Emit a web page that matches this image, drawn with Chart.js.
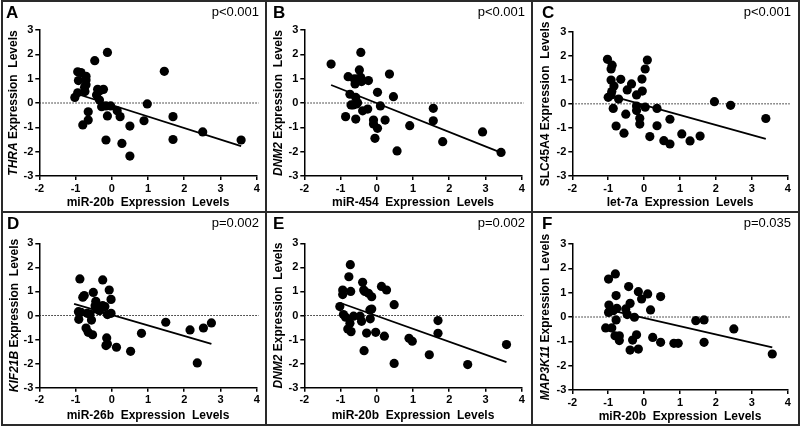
<!DOCTYPE html>
<html>
<head>
<meta charset="utf-8">
<script src="https://cdn.jsdelivr.net/npm/chart.js@4.4.0/dist/chart.umd.min.js"></script>
<style>
  body { margin: 0; background: #fff; }
  #wrap { position: relative; width: 800px; height: 428px; overflow: hidden; }
  canvas { position: absolute; }
  .rule { position: absolute; background: #2a2a2a; z-index: 2; }
</style>
</head>
<body>
<div id="wrap">
  <canvas id="cA" width="266" height="212" style="left:0;top:0"></canvas>
  <canvas id="cB" width="266" height="212" style="left:266px;top:0"></canvas>
  <canvas id="cC" width="268" height="212" style="left:532px;top:0"></canvas>
  <canvas id="cD" width="266" height="214" style="left:0;top:212px"></canvas>
  <canvas id="cE" width="266" height="214" style="left:266px;top:212px"></canvas>
  <canvas id="cF" width="268" height="214" style="left:532px;top:212px"></canvas>

  <div class="rule" style="left:1px;top:0;width:799px;height:2px"></div>
  <div class="rule" style="left:1px;top:424px;width:799px;height:2px"></div>
  <div class="rule" style="left:1px;top:0;width:2px;height:426px"></div>
  <div class="rule" style="left:798px;top:0;width:2px;height:426px"></div>
  <div class="rule" style="left:265px;top:0;width:2px;height:426px"></div>
  <div class="rule" style="left:531px;top:0;width:2px;height:426px"></div>
  <div class="rule" style="left:1px;top:211px;width:799px;height:2px"></div>
</div>
<script>
// panel labels and texts
const panelLetters = ['A', 'B', 'C', 'D', 'E', 'F'];
const geneNames = ['THRA', 'DNM2', 'SLC45A4', 'KIF21B', 'DNM2', 'MAP3K11'];
const geneItalic = [true, true, false, true, true, true];
const mirNames = ['miR-20b', 'miR-454', 'let-7a', 'miR-26b', 'miR-20b', 'miR-20b'];
const pValues = ['p<0.001', 'p<0.001', 'p<0.001', 'p=0.002', 'p=0.002', 'p=0.035'];

const xTicks = [-2, -1, 0, 1, 2, 3, 4];
const yTicks = [-3, -2, -1, 0, 1, 2, 3];

// expression values
const aX = [-1.02,-0.94,-0.85,-0.92,-0.94,-0.80,-0.71,-0.71,-0.71,-0.75,-0.74,-0.65,-0.65,-0.47,-0.42,-0.39,-0.34,-0.33,-0.28,-0.23,-0.16,-0.16,-0.12,-0.12,-0.03,0.15,0.23,0.28,0.50,0.50,0.89,0.98,1.45,1.69,1.69,2.51,3.57];
const aY = [0.23,1.28,1.25,0.92,0.42,-0.90,1.10,0.95,0.75,0.65,0.47,-0.36,-0.70,1.74,0.33,0.56,0.12,0.50,-0.15,0.56,-1.52,-0.12,2.08,-0.53,-0.12,-0.32,-0.56,-1.66,-2.18,-0.95,-0.73,-0.04,1.30,-0.56,-1.50,-1.19,-1.52];

const bX = [-1.26,-0.79,-0.86,-0.74,-0.71,-0.65,-0.62,-0.60,-0.58,-0.58,-0.56,-0.53,-0.48,-0.53,-0.44,-0.42,-0.44,-0.39,-0.25,-0.23,-0.09,-0.09,-0.05,0.02,0.02,0.10,0.23,0.35,0.46,0.56,0.91,1.56,1.56,1.82,2.92,3.43];
const bY = [1.60,1.08,-0.56,0.36,-0.08,-0.08,0.99,0.78,0.23,-0.66,-0.04,0.99,1.36,0.01,1.05,0.88,2.08,-0.32,-0.25,0.92,-0.70,-0.86,-1.45,0.44,-1.04,-0.12,-0.70,1.19,0.26,-1.97,-0.93,-0.22,-0.73,-1.59,-1.19,-2.03];

const cX = [-1.02,-1.00,-0.92,-0.92,-0.92,-0.89,-0.90,-0.86,-0.84,-0.78,-0.71,-0.65,-0.56,-0.51,-0.47,-0.35,-0.21,-0.21,-0.21,-0.12,-0.12,-0.06,-0.05,0.03,0.03,0.09,0.16,0.36,0.36,0.55,0.72,0.72,1.05,1.28,1.56,1.96,2.41,3.39];
const cY = [1.85,0.27,0.37,0.99,1.45,1.61,0.51,-0.19,0.74,-0.92,0.20,1.02,-1.22,-0.43,0.58,0.83,0.37,-0.09,-0.28,-0.60,-0.84,1.03,0.53,1.45,-0.14,1.82,-1.36,-0.19,-0.91,-1.53,-1.67,-0.64,-1.25,-1.54,-1.34,0.09,-0.06,-0.61];

const dX = [-0.88,-0.92,-0.91,-0.85,-0.80,-0.76,-0.71,-0.68,-0.65,-0.60,-0.56,-0.53,-0.51,-0.46,-0.44,-0.42,-0.34,-0.25,-0.25,-0.19,-0.16,-0.14,-0.12,-0.12,-0.07,-0.02,-0.02,0.13,0.52,0.82,1.49,2.16,2.36,2.53,2.75];
const dY = [1.52,0.16,-0.16,0.13,0.76,0.83,-0.52,0.09,-0.70,0.06,-0.19,-0.80,0.96,0.41,0.59,0.27,0.20,1.48,0.41,0.37,-1.25,-0.93,0.04,-1.18,1.06,0.67,0.09,-1.32,-1.49,-0.74,-0.28,-0.60,-1.97,-0.52,-0.31];

const eX = [-1.02,-0.94,-0.94,-0.92,-0.86,-0.80,-0.77,-0.73,-0.72,-0.74,-0.71,-0.64,-0.46,-0.42,-0.39,-0.36,-0.33,-0.35,-0.28,-0.23,-0.19,-0.18,-0.14,-0.14,-0.03,0.13,0.27,0.21,0.48,0.48,0.89,0.98,1.45,1.69,1.69,2.51,3.58];
const eY = [0.37,1.06,0.87,0.04,-0.07,-0.56,1.61,2.11,1.00,-0.32,-0.67,-0.03,-0.03,-0.24,1.38,1.06,1.00,-1.46,-0.73,0.92,0.23,-0.14,0.27,0.78,-0.70,1.21,1.06,-0.86,0.45,-1.99,-0.95,-1.07,-1.63,-0.21,-0.74,-2.04,-1.21];

const fX = [-1.07,-0.99,-0.98,-0.99,-0.90,-0.86,-0.80,-0.78,-0.76,-0.78,-0.81,-0.69,-0.69,-0.51,-0.47,-0.43,-0.39,-0.39,-0.32,-0.27,-0.21,-0.16,-0.16,-0.07,0.10,0.18,0.24,0.46,0.46,0.83,0.95,1.44,1.67,1.67,2.50,3.57];
const fY = [-0.45,1.56,0.49,0.19,-0.45,0.26,1.77,0.88,0.36,-0.12,-0.77,-0.77,-0.97,0.33,0.10,1.25,0.56,-1.36,-0.95,-0.01,-0.73,-1.32,1.04,0.74,0.95,0.29,-0.84,0.84,-1.04,-1.08,-1.08,-0.15,-0.12,-1.04,-0.49,-1.52];

// regression line ends [x0, y0, x1, y1] as drawn in each panel
const fitA = [-1.02, 0.40, 3.57, -1.77];
const fitB = [-1.26, 0.74, 3.43, -2.04];
const fitC = [-1.02, 0.37, 3.39, -1.46];
const fitD = [-1.04, 0.48, 2.75, -1.18];
const fitE = [-1.02, 0.53, 3.58, -1.94];
const fitF = [-0.98, 0.29, 3.57, -1.25];

const FONT = '"Liberation Sans", Arial, sans-serif';

// dotted zero line + letter, p value and mixed-style y title
const decor = {
  id: 'decor',
  beforeDatasetsDraw(chart) {
    const { ctx, chartArea } = chart;
    const y0 = chart.scales.y.getPixelForValue(0);
    ctx.save();
    ctx.strokeStyle = '#222';
    ctx.lineWidth = 1;
    ctx.setLineDash([1.5, 1.5]);
    ctx.beginPath();
    ctx.moveTo(chartArea.left, y0);
    ctx.lineTo(chartArea.right + 2, y0);
    ctx.stroke();
    ctx.restore();
  },
  afterDraw(chart, args, opts) {
    const { ctx, chartArea } = chart;
    ctx.save();
    ctx.fillStyle = '#000';
    ctx.textBaseline = 'middle';
    ctx.font = 'bold 17px ' + FONT;
    ctx.textAlign = 'left';
    ctx.fillText(opts.letter, opts.letterX, opts.letterY);
    ctx.font = '13px ' + FONT;
    ctx.textAlign = 'right';
    ctx.fillText(opts.p, chart.width - opts.pRight, opts.letterY - 1);

    // rotated y title
    const geneFont = (opts.italic ? 'italic bold 12px ' : 'bold 12px ') + FONT;
    const restFont = 'bold 12px ' + FONT;
    const rest = ' Expression  Levels';
    ctx.font = geneFont;
    const w1 = ctx.measureText(opts.gene).width;
    ctx.font = restFont;
    const w2 = ctx.measureText(rest).width;
    const cy = (chartArea.top + chartArea.bottom) / 2;
    ctx.translate(opts.titleX, cy);
    ctx.rotate(-Math.PI / 2);
    ctx.textAlign = 'left';
    ctx.font = geneFont;
    ctx.fillText(opts.gene, -(w1 + w2) / 2, 0);
    ctx.font = restFont;
    ctx.fillText(rest, -(w1 + w2) / 2 + w1, 0);
    ctx.restore();
  }
};

function makePanel(id, idx, xs, ys, fit, g) {
  const pts = xs.map((x, i) => ({ x: x, y: ys[i] }));
  const yW = 28;
  const tickFont = { family: FONT, size: 11, weight: 'bold' };
  new Chart(document.getElementById(id), {
    type: 'scatter',
    data: {
      datasets: [
        {
          data: pts,
          backgroundColor: '#000',
          borderWidth: 0,
          pointRadius: 4.6,
          pointHoverRadius: 4.6
        },
        {
          data: [{ x: fit[0], y: fit[1] }, { x: fit[2], y: fit[3] }],
          showLine: true,
          borderColor: '#000',
          borderWidth: 1.8,
          pointRadius: 0
        }
      ]
    },
    options: {
      responsive: false,
      animation: false,
      events: [],
      layout: {
        padding: { left: g.left - yW, right: g.w - g.right, top: g.top, bottom: 0 }
      },
      plugins: {
        legend: { display: false },
        tooltip: { enabled: false },
        decor: {
          letter: panelLetters[idx], p: pValues[idx], gene: geneNames[idx],
          italic: geneItalic[idx], letterX: g.letterX, letterY: g.letterY,
          pRight: g.pRight, titleX: g.titleX
        }
      },
      scales: {
        x: {
          type: 'linear', min: xTicks[0], max: xTicks[xTicks.length - 1],
          afterFit: s => { s.height = g.h - g.bottom; },
          afterBuildTicks: s => { s.ticks = xTicks.map(v => ({ value: v })); },
          grid: { display: true, drawOnChartArea: false, drawTicks: true, tickLength: 4, color: '#000', lineWidth: 1.5 },
          border: { display: true, color: '#000', width: 1.5 },
          ticks: { color: '#000', font: tickFont, padding: 2, maxRotation: 0 },
          title: {
            display: true, text: mirNames[idx] + '  Expression  Levels',
            color: '#000', font: { family: FONT, size: 12, weight: 'bold' },
            padding: { top: 0, bottom: g.xtPad }
          }
        },
        y: {
          type: 'linear', min: yTicks[0], max: yTicks[yTicks.length - 1],
          afterFit: s => { s.width = yW; },
          afterBuildTicks: s => { s.ticks = yTicks.map(v => ({ value: v })); },
          grid: { display: true, drawOnChartArea: false, drawTicks: true, tickLength: 4, color: '#000', lineWidth: 1.5 },
          border: { display: true, color: '#000', width: 1.5 },
          ticks: { color: '#000', font: tickFont, padding: 2 }
        }
      }
    },
    plugins: [decor]
  });
}

makePanel('cA', 0, aX, aY, fitA, { w: 266, h: 212, left: 39.3, right: 256.7, top: 30, bottom: 176, letterX: 6, letterY: 13, pRight: 7, titleX: 14, xtPad: 2 });
makePanel('cB', 1, bX, bY, fitB, { w: 266, h: 212, left: 38.3, right: 255.7, top: 30, bottom: 176, letterX: 7, letterY: 13, pRight: 7, titleX: 12.5, xtPad: 2 });
makePanel('cC', 2, cX, cY, fitC, { w: 268, h: 212, left: 40.3, right: 255.7, top: 31.7, bottom: 176, letterX: 10, letterY: 13, pRight: 9, titleX: 13.5, xtPad: 2 });
makePanel('cD', 3, dX, dY, fitD, { w: 266, h: 214, left: 39.3, right: 256.7, top: 31.3, bottom: 175.7, letterX: 7, letterY: 12, pRight: 7, titleX: 14.5, xtPad: 3 });
makePanel('cE', 4, eX, eY, fitE, { w: 266, h: 214, left: 38.3, right: 255.7, top: 31.3, bottom: 175.7, letterX: 7, letterY: 12, pRight: 7, titleX: 12.5, xtPad: 3 });
makePanel('cF', 5, fX, fY, fitF, { w: 268, h: 214, left: 40.3, right: 255.7, top: 32, bottom: 178, letterX: 10, letterY: 12, pRight: 9, titleX: 13.5, xtPad: 2 });
</script>
</body>
</html>
